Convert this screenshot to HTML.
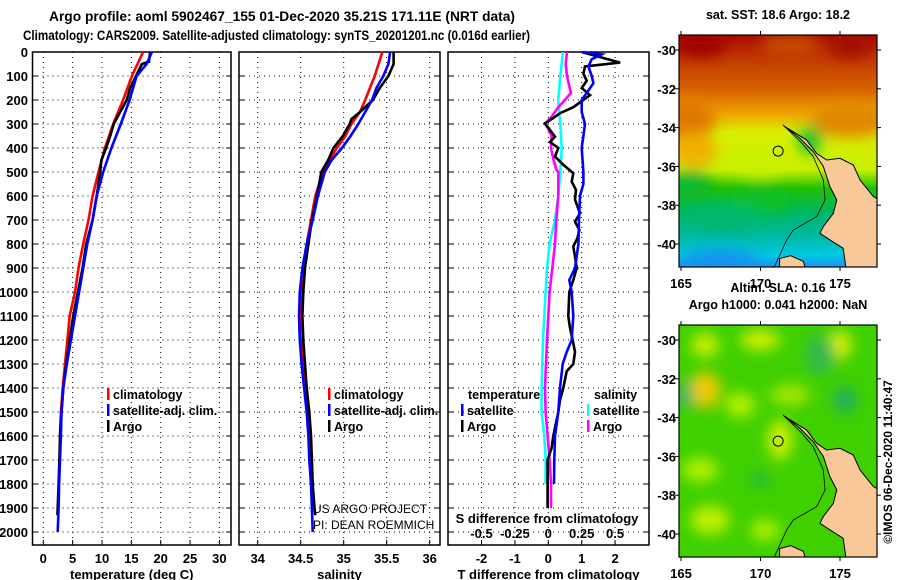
<!DOCTYPE html>
<html><head><meta charset="utf-8"><style>
html,body{margin:0;padding:0;background:#fff;}
svg{display:block;font-family:"Liberation Sans",sans-serif;}
.b{font-weight:bold;}
</style></head><body>
<svg id="chart" width="900" height="580" viewBox="0 0 900 580" xmlns="http://www.w3.org/2000/svg">
<defs>
<linearGradient id="sstgrad" x1="0" y1="0" x2="0" y2="1">
<stop offset="0" stop-color="#a80800"/>
<stop offset="0.1" stop-color="#c03800"/>
<stop offset="0.24" stop-color="#d86400"/>
<stop offset="0.34" stop-color="#f0a400"/>
<stop offset="0.42" stop-color="#d8f000"/>
<stop offset="0.58" stop-color="#c8f000"/>
<stop offset="0.66" stop-color="#20c000"/>
<stop offset="0.76" stop-color="#00b860"/>
<stop offset="0.86" stop-color="#00b8a0"/>
<stop offset="0.95" stop-color="#00c8e0"/>
<stop offset="1" stop-color="#2090f0"/>
</linearGradient>
<filter id="blur" x="-50%" y="-50%" width="200%" height="200%"><feGaussianBlur stdDeviation="7"/></filter>
<clipPath id="clipMap1"><rect x="679" y="35" width="198" height="232"/></clipPath>
<clipPath id="clipMap2"><rect x="679" y="325" width="198" height="232"/></clipPath>
</defs>

<g>
<text class="b" x="49" y="21" font-size="13.5" textLength="466" lengthAdjust="spacingAndGlyphs">Argo profile: aoml 5902467_155 01-Dec-2020 35.21S 171.11E (NRT data)</text>
<text class="b" x="23" y="40" font-size="13.5" textLength="507" lengthAdjust="spacingAndGlyphs">Climatology: CARS2009. Satellite-adjusted climatology: synTS_20201201.nc (0.016d earlier)</text>
</g>

<g id="panels"></g>
<g id="maps"></g>
<text class="b" transform="translate(892,462) rotate(-90)" font-size="12" text-anchor="middle">©IMOS 06-Dec-2020 11:40:47</text>
</svg>
<script>
// ---- data ----
const tempClimDepth=[0,100,200,300,400,500,600,700,800,900,1000,1100,1200,1300,1400,1500,1600];
const tempClim=[17.0,15.1,13.6,11.9,10.5,9.4,8.4,7.7,6.8,6.0,5.4,4.5,4.1,3.7,3.3,3.0,2.85];
const tempSatDepth=[0,50,100,200,300,400,500,600,700,800,900,1000,1100,1200,1300,1400,1500,1600,1700,1800,1900,2000];
const tempSat=[18.5,17.6,15.9,14.7,13.2,11.6,10.2,9.1,8.4,7.5,6.8,6.1,5.4,4.7,4.0,3.4,3.1,3.0,2.85,2.7,2.6,2.45];
const tempArgoDepth=[0,40,50,100,150,200,250,300,350,400,450,500,600,700,800,900,1000,1100,1200,1300,1400,1500,1600,1700,1800,1900,1930];
const tempArgo=[18.2,18.0,16.8,15.8,14.8,14.2,13.1,12.0,11.4,10.7,9.9,9.7,9.1,8.4,7.3,6.7,5.9,5.1,4.5,3.9,3.4,3.1,2.85,2.75,2.6,2.45,2.4];

const salClimDepth=[0,100,200,250,300,350,400,450,500,600,700,800,900,1000,1100,1200,1300,1400,1500,1600,1700];
const salClim=[35.45,35.36,35.25,35.19,35.09,35.02,34.92,34.84,34.76,34.67,34.62,34.57,34.53,34.51,34.49,34.50,34.53,34.57,34.59,34.60,34.62];
const salSatDepth=[0,50,100,150,200,250,300,350,400,450,500,600,700,800,900,1000,1100,1200,1300,1400,1500,1600,1700,1800,1900,2000];
const salSat=[35.54,35.52,35.46,35.38,35.33,35.25,35.17,35.08,34.98,34.86,34.78,34.70,34.64,34.57,34.52,34.49,34.48,34.49,34.51,34.54,34.57,34.59,34.60,34.62,34.63,34.64];
const salArgoDepth=[0,50,100,150,200,250,280,300,350,400,450,500,600,700,800,900,1000,1100,1200,1300,1400,1500,1600,1700,1800,1900,1930];
const salArgo=[35.58,35.58,35.52,35.42,35.34,35.19,35.09,35.07,34.99,34.88,34.82,34.74,34.69,34.63,34.59,34.55,34.53,34.52,34.53,34.55,34.57,34.60,34.62,34.63,34.64,34.66,34.67];

const dTSatDepth=[0,10,30,60,100,130,200,250,300,350,400,500,550,600,700,800,900,950,1000,1100,1200,1250,1300,1400,1500,1600,1700,1800];
const dTSat=[1.0,1.6,1.3,1.2,1.3,1.35,1.0,1.0,1.1,1.05,1.0,1.05,1.05,0.95,0.92,0.9,0.8,0.63,0.7,0.75,0.7,0.55,0.43,0.35,0.3,0.2,0.18,0.17];
const dTArgoDepth=[0,44,60,90,120,150,180,205,230,255,275,297,325,353,375,400,436,470,505,540,575,615,672,707,742,776,811,853,900,950,1000,1100,1150,1200,1250,1300,1330,1400,1450,1500,1600,1650,1700,1800,1900];
const dTArgo=[1.0,2.15,1.1,1.05,1.15,1.0,1.25,1.0,0.75,0.35,0.15,-0.1,0.05,0.2,0.05,0.3,0.2,0.45,0.75,0.7,0.83,0.8,0.95,0.8,0.93,0.87,0.75,0.8,0.85,0.75,0.63,0.6,0.65,0.73,0.8,0.75,0.55,0.45,0.35,0.3,0.15,0.1,-0.02,-0.02,-0.02];
const dSSatDepth=[0,100,200,300,400,500,600,700,800,900,1000,1100,1200,1300,1400,1500,1600,1700,1800];
const dSSat=[0.11,0.09,0.075,0.09,0.1,0.09,0.075,0.05,0.01,-0.01,-0.02,-0.03,-0.04,-0.045,-0.05,-0.05,-0.03,-0.02,-0.02];
const dSArgoDepth=[0,50,100,150,170,200,230,270,300,320,350,400,450,490,500,600,700,800,900,1000,1200,1400,1500,1600,1700,1800,1900];
const dSArgo=[0.14,0.13,0.14,0.16,0.17,0.125,0.075,0.025,-0.025,0.0,0.025,0.02,0.04,0.06,0.075,0.075,0.06,0.05,0.03,0.01,-0.01,-0.025,-0.02,-0.005,0.01,0.02,0.02];

const depthTicks=[0,100,200,300,400,500,600,700,800,900,1000,1100,1200,1300,1400,1500,1600,1700,1800,1900,2000];
const tempTicks=[0,5,10,15,20,25,30];
const salTicks=[34,34.5,35,35.5,36];
const salTickLabels=['34','34.5','35','35.5','36'];
const dTTicks=[-2,-1,0,1,2];
const dSTicks=[-0.5,-0.25,0,0.25,0.5];
const dSTickLabels=['-0.5','-0.25','0','0.25','0.5'];
const latTicks=[-30,-32,-34,-36,-38,-40];
const lonTicks=[165,170,175];
const argoLon=171.11, argoLat=-35.21;

// ---- axes ----
const yD=d=>52+d*0.24;
const xT=t=>43.3+t*5.87;
const xS=s=>257.7+(s-34)*86;
const xdT=v=>548.3+v*33.4;
const xdS=v=>548.3+v*133.6;
const NS='http://www.w3.org/2000/svg';
function mk(tag,attrs,parent){const e=document.createElementNS(NS,tag);for(const k in attrs)e.setAttribute(k,attrs[k]);if(parent)parent.appendChild(e);return e;}
const panels=document.getElementById('panels');

function panel(name,x0,x1,ticks,labels,xf,title,showDepthLabels){
  const g=mk('g',{},panels);
  
  
  const y0=52,y1=545;
  depthTicks.forEach(d=>{ if(d>0){const l=mk('line',{x1:x0,x2:x1,y1:yD(d),y2:yD(d),stroke:'#000','stroke-width':1,'stroke-dasharray':'1,4'},g);
    
    }
    mk('line',{x1:x0,x2:x0+5,y1:yD(d),y2:yD(d),stroke:'#000'},g);
    mk('line',{x1:x1-5,x2:x1,y1:yD(d),y2:yD(d),stroke:'#000'},g);
  });
  ticks.forEach((t,i)=>{const x=xf(t);
    const l=mk('line',{x1:x,x2:x,y1:y0,y2:y1,stroke:'#000','stroke-width':1,'stroke-dasharray':'1,4'},g);
    
    
    mk('line',{x1:x,x2:x,y1:y1-5,y2:y1,stroke:'#000'},g);
    const tx=mk('text',{x:x,y:563,'font-size':13,'text-anchor':'middle','class':'b'},g);
    tx.textContent=labels[i];
    
    
  });
  const fr=mk('rect',{x:x0,y:y0,width:x1-x0,height:y1-y0,fill:'none',stroke:'#000','stroke-width':1.5},g);
  
  
  const tt=mk('text',{x:(x0+x1)/2,y:579,'font-size':13,'text-anchor':'middle','class':'b'},g);
  tt.textContent=title;
  
  
  if(showDepthLabels){depthTicks.forEach(d=>{const t=mk('text',{x:28,y:yD(d)+5,'font-size':13,'text-anchor':'end','class':'b'},g);
    t.textContent=d;
    
    });}
  return g;
}
function series(g,name,depths,vals,xf,color){
  const pts=depths.map((d,i)=>xf(vals[i]).toFixed(1)+','+yD(d).toFixed(1)).join(' ');
  const p=mk('polyline',{points:pts,fill:'none',stroke:color,'stroke-width':2.6,'stroke-linejoin':'miter'},g);
  
  
}
function legend(g,x,y,color,label,name){
  if(color){mk('rect',{x:x-6,y:y-7,width:2.5,height:12,fill:color},g);}
  const t=mk('text',{x:x,y:y+4,'font-size':12.5,'class':'b'},g);
  t.textContent=label;
  
  
}

const g1=panel('temperature-panel',32.5,231,tempTicks,tempTicks.map(String),xT,'temperature (deg C)',true);
series(g1,'temp-climatology-line',tempClimDepth,tempClim,xT,'#ff0000');
series(g1,'temp-argo-line',tempArgoDepth,tempArgo,xT,'#000000');
series(g1,'temp-satellite-line',tempSatDepth,tempSat,xT,'#0000ff');
legend(g1,113,395,'#ff0000','climatology','legend-climatology');
legend(g1,113,411,'#0000ff','satellite-adj. clim.','legend-satellite');
legend(g1,113,427,'#000000','Argo','legend-argo');

const g2=panel('salinity-panel',239,440,salTicks,salTickLabels,xS,'salinity',false);
series(g2,'sal-climatology-line',salClimDepth,salClim,xS,'#ff0000');
series(g2,'sal-argo-line',salArgoDepth,salArgo,xS,'#000000');
series(g2,'sal-satellite-line',salSatDepth,salSat,xS,'#0000ff');
legend(g2,334,395,'#ff0000','climatology','legend-climatology');
legend(g2,334,411,'#0000ff','satellite-adj. clim.','legend-satellite');
legend(g2,334,427,'#000000','Argo','legend-argo');
[['US ARGO PROJECT',513,'project-credit'],['PI: DEAN ROEMMICH',529,'pi-credit']].forEach(a=>{
  const t=mk('text',{x:313,y:a[1],'font-size':12},g2);t.textContent=a[0];
  
  });

const g3=panel('difference-panel',448,649,dTTicks,dTTicks.map(String),xdT,'T difference from climatology',false);
series(g3,'dS-satellite-line',dSSatDepth,dSSat,xdS,'#00ffff');
series(g3,'dS-argo-line',dSArgoDepth,dSArgo,xdS,'#ff00ff');
series(g3,'dT-argo-line',dTArgoDepth,dTArgo,xdT,'#000000');
series(g3,'dT-satellite-line',dTSatDepth,dTSat,xdT,'#0000ff');
legend(g3,468,395,null,'temperature','legend-temperature-heading');
legend(g3,467,411,'#0000ff','satellite','legend-dT-satellite');
legend(g3,467,427,'#000000','Argo','legend-dT-argo');
legend(g3,594,395,null,'salinity','legend-salinity-heading');
legend(g3,593,411,'#00ffff','satellite','legend-dS-satellite');
legend(g3,593,427,'#ff00ff','Argo','legend-dS-argo');
{const t=mk('text',{x:547,y:523,'font-size':13,'text-anchor':'middle','class':'b'},g3);t.textContent='S difference from climatology';
 
 }
dSTicks.forEach((v,i)=>{const t=mk('text',{x:xdS(v),y:538,'font-size':13,'text-anchor':'middle','class':'b'},g3);t.textContent=dSTickLabels[i];
 
 });

// ---- maps ----
const maps=document.getElementById('maps');
const coast=[[171.48,-33.92],[172.9,-34.64],[173.53,-35.33],[174.16,-35.67],[175.0,-35.58],[175.84,-35.93],[176.26,-36.7],[177.1,-37.56],[177.5,-37.73],[177.5,-41.5],[175.42,-41.5],[175.2,-40.22],[174.37,-39.79],[173.74,-39.45],[173.95,-39.1],[174.58,-38.42],[174.8,-37.73],[174.37,-37.05],[173.95,-36.0],[173.32,-35.24],[172.48,-34.55]];
const island=[[171.2,-40.75],[171.9,-40.6],[172.7,-40.9],[172.9,-41.5],[171.2,-41.5]];
const isobath=[[171.4,-33.85],[172.6,-34.8],[173.32,-35.5],[173.95,-36.7],[174.06,-37.73],[173.53,-38.59],[172.06,-39.28],[171.65,-39.79],[170.8,-41.3]];
function mapPanel(name,top,title,fillFn){
  const g=mk('g',{},maps);
  
  
  const lx=lon=>681+(lon-165)*15.9;
  const ly=lat=>top+15-(lat+30)*19.4;
  const inner=mk('g',{'clip-path':'url(#'+(top<100?'clipMap1':'clipMap2')+')'},g);
  fillFn(inner);
  const p=mk('polygon',{points:coast.map(c=>lx(c[0])+','+ly(c[1])).join(' '),fill:'#f8c898',stroke:'#000','stroke-width':1},inner);
  
  
  mk('polygon',{points:island.map(c=>lx(c[0])+','+ly(c[1])).join(' '),fill:'#f8c898',stroke:'#000','stroke-width':1},inner);
  const iso=mk('polyline',{points:isobath.map(c=>lx(c[0])+','+ly(c[1])).join(' '),fill:'none',stroke:'#000','stroke-width':0.8},inner);
  
  
  const m=mk('circle',{cx:lx(argoLon),cy:ly(argoLat),r:5,fill:'none',stroke:'#000','stroke-width':1},g);
  
  
  mk('rect',{x:679,y:top,width:198,height:232,fill:'none',stroke:'#000','stroke-width':1.2},g);
  latTicks.forEach(l=>{const y=ly(l);
    mk('line',{x1:679,x2:675,y1:y,y2:y,stroke:'#000'},g);
    mk('line',{x1:877,x2:881,y1:y,y2:y,stroke:'#000'},g);
    const t=mk('text',{x:676,y:y+5,'font-size':13,'text-anchor':'end','class':'b'},g);t.textContent=l;
    
    });
  lonTicks.forEach(l=>{const x=lx(l);
    mk('line',{x1:x,x2:x,y1:top,y2:top-4,stroke:'#000'},g);
    mk('line',{x1:x,x2:x,y1:top+232,y2:top+236,stroke:'#000'},g);
    const t=mk('text',{x:x,y:top+253,'font-size':13,'text-anchor':'middle','class':'b'},g);t.textContent=l;
    
    });
  title.forEach((s,i)=>{const t=mk('text',{x:778,y:top-16+i*17-(title.length-1)*17,'font-size':12.5,'text-anchor':'middle','class':'b'},g);t.textContent=s;
    
    });
}
mapPanel('sst-map',35,['sat. SST: 18.6 Argo: 18.2'],g=>{
  mk('rect',{x:679,y:35,width:198,height:232,fill:'url(#sstgrad)'},g);
  const bl=mk('g',{filter:'url(#blur)'},g);
  [[685,120,30,22,'#e07800'],[695,150,22,18,'#f0b000'],[690,185,22,14,'#10b830'],[760,200,30,14,'#10c020'],[725,218,45,12,'#00b870'],[850,120,40,18,'#e08800'],[790,45,30,10,'#c85000'],[700,45,25,12,'#a00000'],[850,45,20,12,'#a01000'],[720,260,40,10,'#1890f0'],[760,165,25,12,'#c8f000'],[810,140,12,14,'#10c030']].forEach(b=>mk('ellipse',{cx:b[0],cy:b[1],rx:b[2],ry:b[3],fill:b[4]},bl));
});
mapPanel('sla-map',325,['Altim. SLA: 0.16','Argo h1000: 0.041 h2000: NaN'],g=>{
  mk('rect',{x:679,y:325,width:198,height:232,fill:'#40d000'},g);
  const bl=mk('g',{filter:'url(#blur)'},g);
  [[705,345,14,12,'#c8f000'],[760,340,20,10,'#d0f000'],[840,345,12,14,'#d8f000'],[705,390,16,18,'#f0c800'],[740,405,15,12,'#b8f000'],[790,395,20,10,'#a8e800'],[845,400,12,14,'#20b060'],[685,395,8,14,'#20b070'],[780,440,12,20,'#d0f000'],[700,470,18,12,'#b0f000'],[760,480,10,8,'#20b840'],[710,520,20,14,'#c0f000'],[765,530,15,10,'#b0f000'],[820,355,15,20,'#30b850']].forEach(b=>mk('ellipse',{cx:b[0],cy:b[1],rx:b[2],ry:b[3],fill:b[4]},bl));
});
</script>
</body></html>
